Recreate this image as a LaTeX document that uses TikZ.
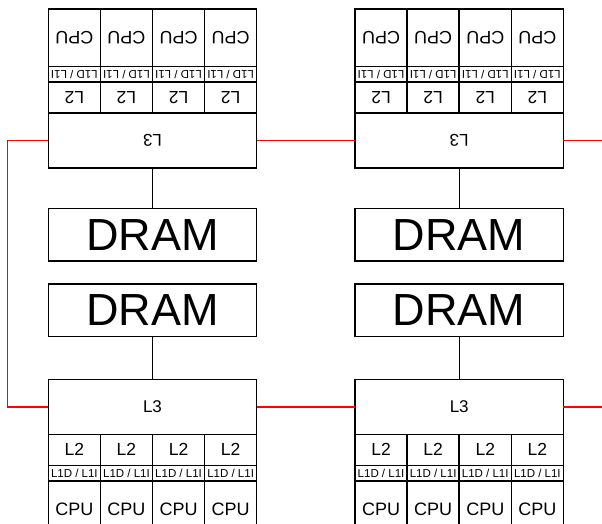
\documentclass[tikz,border=0pt]{standalone}
\usepackage{fontspec}
\setmainfont{Liberation Sans}
\begin{document}
\begin{tikzpicture}[x=1pt,y=-1pt,
  cell/.style={draw=black, line width=1.5pt, fill=white, inner sep=0pt, outer sep=0pt},
  cpucell/.style={cell, minimum width=52.1pt, minimum height=57.3pt, font=\fontsize{18}{20}\selectfont},
  lonecell/.style={cell, minimum width=52.1pt, minimum height=15.5pt, font=\fontsize{11.5}{12}\selectfont},
  ltwocell/.style={cell, minimum width=52.1pt, minimum height=31pt, font=\fontsize{17.5}{19}\selectfont},
  lthree/.style={cell, minimum width=208.4pt, minimum height=55pt, font=\fontsize{17}{18}\selectfont},
  dram/.style={cell, minimum width=208.4pt, minimum height=52.7pt, font=\fontsize{45}{48}\selectfont},
  bus/.style={draw=black, line width=1.3pt},
  link/.style={draw=red, line width=1.5pt}]
\path[use as bounding box, clip] (0,0) rectangle (602,523);

% two sockets, each with an upside-down package above and an upright one below
\foreach \u/\cx in {l/152.5, r/459.2} {
  % upper package (rotated half-turn)
  \node[lthree] (t\u L3) at (\cx,140.5) {\rotatebox{180}{L3}};
  % lower package
  \node[lthree] (b\u L3) at (\cx,406.8) {L3};
  \foreach \i in {0,1,2,3} {
    \pgfmathsetmacro{\px}{\cx-104.2+52.1*(\i+0.5)}
    \node[ltwocell] (t\u L2\i) at (\px,97.5) {\rotatebox{180}{L2}};
    \node[lonecell] (t\u L1\i) at (\px,74.25) {\rotatebox{180}{L1D / L1I}};
    \node[cpucell]  (t\u C\i)  at (\px,37.85) {\rotatebox{180}{CPU}};
    \node[ltwocell] (b\u L2\i) at (\px,449.8) {L2};
    \node[lonecell] (b\u L1\i) at (\px,473.05) {L1D / L1I};
    \node[cpucell]  (b\u C\i)  at (\px,509.45) {CPU};
  }
  % memory banks
  \node[dram] (d\u 1) at (\cx,234.65) {DRAM};
  \node[dram] (d\u 2) at (\cx,310.35) {DRAM};
  \draw[bus] (t\u L3.south) -- (d\u 1.north);
  \draw[bus] (d\u 2.south) -- (b\u L3.north);
}

% interconnect between sockets
\coordinate (wrapT) at (7.3,140.5);
\coordinate (wrapB) at (7.3,406.8);
\coordinate (outT) at (602,140.5);
\coordinate (outB) at (602,406.8);
\draw[link] (tlL3.west) -- (wrapT) -- (wrapB) -- (blL3.west);
\draw[link] (tlL3.east) -- (trL3.west);
\draw[link] (blL3.east) -- (brL3.west);
\draw[link] (trL3.east) -- (outT);
\draw[link] (brL3.east) -- (outB);
\end{tikzpicture}
\end{document}
